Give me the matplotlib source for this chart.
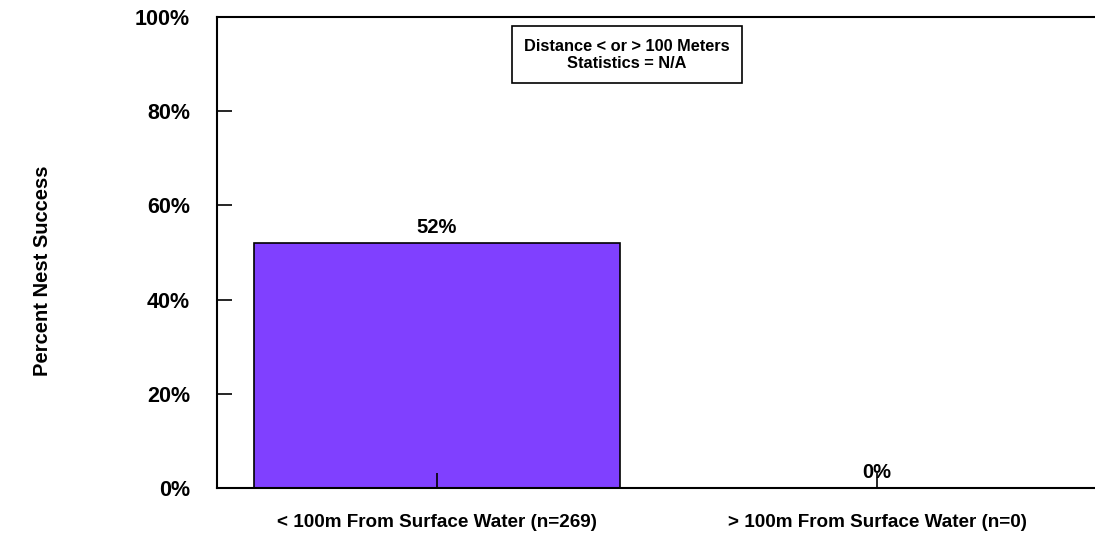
import matplotlib
matplotlib.use("Agg")
import matplotlib.pyplot as plt

categories = ["< 100m From Surface Water (n=269)", "> 100m From Surface Water (n=0)"]
values = [52, 0]
value_labels = ["52%", "0%"]
yticks = [0, 20, 40, 60, 80, 100]
ytick_labels = ["0%", "20%", "40%", "60%", "80%", "100%"]
box_text = "Distance < or > 100 Meters\nStatistics = N/A"
ylabel = "Percent Nest Success"

plt.rcParams['font.family'] = ['Liberation Sans', 'DejaVu Sans']

fig = plt.figure(figsize=(10.95, 5.40), dpi=100)
ax = fig.add_axes([217/1095, (540-488)/540, 880/1095, (488-17)/540])

x = list(range(len(categories)))
ax.bar(x, values, width=0.834, color="#8040FF", edgecolor="black", linewidth=1.2, zorder=1)
ax.set_axisbelow(False)

ax.set_xlim(-0.5, 1.5)
ax.set_ylim(0, 100)
ax.set_yticks(yticks)
ax.set_yticklabels(ytick_labels, fontsize=15.5, fontweight='bold')
ax.set_xticks(x)
ax.set_xticklabels(categories, fontsize=13.6, fontweight='bold')
ax.tick_params(axis='y', direction='in', length=11, width=1.2, pad=19.5)
ax.tick_params(axis='x', direction='in', length=11, width=1.2, pad=19)

for s in ['left', 'top', 'bottom']:
    ax.spines[s].set_linewidth(1.5)
ax.spines['right'].set_visible(False)

for xi, v, lab in zip(x, values, value_labels):
    ax.text(xi, v + 1.3, lab, ha='center', va='bottom', fontsize=14.5, fontweight='bold')

ax.text(0.466, 0.92, box_text, transform=ax.transAxes, ha='center', va='center',
        fontsize=11.8, fontweight='bold', linespacing=1.15,
        bbox=dict(boxstyle='square,pad=0.75', facecolor='white', edgecolor='black', linewidth=1.2))

fig.text(43/1095, 1 - 271/540, ylabel, rotation=90, ha='center', va='center',
         fontsize=14.5, fontweight='bold')

fig.savefig("out.png", dpi=100)
